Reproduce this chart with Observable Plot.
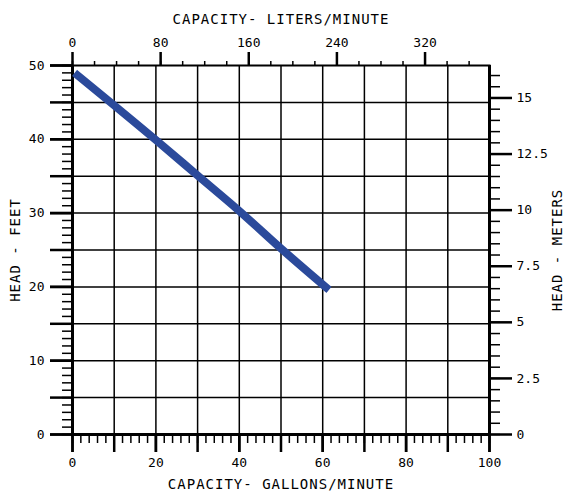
<!DOCTYPE html>
<html>
<head>
<meta charset="utf-8">
<script src="https://cdn.jsdelivr.net/npm/d3@7"></script>
<script src="https://cdn.jsdelivr.net/npm/@observablehq/plot@0.6"></script>
<style>
  html, body { margin: 0; padding: 0; background: #fff; overflow: hidden; }
  #chart { width: 566px; height: 497px; }
</style>
</head>
<body>
<div id="chart"></div>
<script>
// ---- data ----
const capacityGpm = [0.5, 20, 30, 40, 50, 61.5];
const headFeet    = [49, 39.9, 35.1, 30.3, 25.2, 19.6];

// tick values
const gpmMajor   = [0, 10, 20, 30, 40, 50, 60, 70, 80, 90, 100];
const gpmLabels  = [0, 20, 40, 60, 80, 100];
const gpmMinor   = d3.range(0, 100.01, 2);
const feetLabels = [0, 10, 20, 30, 40, 50];
const feetMajor  = [0, 5, 10, 15, 20, 25, 30, 35, 40, 45, 50];
const feetMinor  = d3.range(0, 50.01, 1);
const litersMajor = [0, 80, 160, 240, 320];
const litersMinor = d3.range(0, 370, 20);
const metersMajor = [0, 2.5, 5, 7.5, 10, 12.5, 15];
const metersMinor = d3.range(0, 16.01, 0.5);

const gridGpm  = [10, 20, 30, 40, 50, 60, 70, 80, 90];
const gridFeet = [5, 10, 15, 20, 25, 30, 35, 40, 45];

// unit conversions (as drawn on the reference)
const LITERS_PER_GALLON = 3.785;
const FEET_PER_METER = 3.04;

const titles = {
  top: "CAPACITY- LITERS/MINUTE",
  bottom: "CAPACITY- GALLONS/MINUTE",
  left: "HEAD - FEET",
  right: "HEAD - METERS"
};

const data = capacityGpm.map((g, i) => ({gpm: g, ft: headFeet[i]}));
const toGal = l => l / LITERS_PER_GALLON;
const toFt = m => m * FEET_PER_METER;

const font = "DejaVu Sans Mono";

const chart = Plot.plot({
  width: 566,
  height: 497,
  marginLeft: 72,
  marginRight: 77,
  marginTop: 65,
  marginBottom: 63,
  style: {fontFamily: font, fontSize: "13px", color: "black", background: "white"},
  x: {domain: [0, 100]},
  y: {domain: [0, 50]},
  marks: [
    // grid
    Plot.ruleX(gridGpm, {stroke: "black", strokeWidth: 1.5}),
    Plot.ruleY(gridFeet, {stroke: "black", strokeWidth: 1.5}),
    // bottom axis
    Plot.axisX(gpmMinor, {anchor: "bottom", tickSize: 9, strokeWidth: 1.5, tickFormat: () => "", label: null}),
    Plot.axisX(gpmMajor, {anchor: "bottom", tickSize: 18, strokeWidth: 2.5, tickFormat: () => "", label: null}),
    Plot.axisX(gpmLabels, {anchor: "bottom", tickSize: 18, tickPadding: 5, strokeWidth: 2.5, tickFormat: d => String(d), label: null, fontSize: 13}),
    // left axis
    Plot.axisY(feetMinor, {anchor: "left", tickSize: 10, strokeWidth: 1.5, tickFormat: () => "", label: null}),
    Plot.axisY(feetMajor, {anchor: "left", tickSize: 22, strokeWidth: 2.5, tickFormat: () => "", label: null}),
    Plot.axisY(feetLabels, {anchor: "left", tickSize: 22, tickPadding: 6, strokeWidth: 2.5, tickFormat: d => String(d), label: null, fontSize: 13}),
    // top axis (liters/minute mapped onto the gallons scale)
    Plot.axisX(litersMinor.map(toGal), {anchor: "top", tickSize: 5, strokeWidth: 1.5, tickFormat: () => "", label: null}),
    Plot.axisX(litersMajor.map(toGal), {anchor: "top", tickSize: 14, tickPadding: 5, strokeWidth: 2.5,
      tickFormat: d => String(Math.round(d * LITERS_PER_GALLON)), label: null, fontSize: 13}),
    // right axis (meters mapped onto the feet scale)
    Plot.axisY(metersMinor.map(toFt).filter(v => v <= 50), {anchor: "right", tickSize: 10, strokeWidth: 1.5, tickFormat: () => "", label: null}),
    Plot.axisY(metersMajor.map(toFt), {anchor: "right", tickSize: 22, tickPadding: 5, strokeWidth: 2.5,
      tickFormat: d => String(Math.round(d / FEET_PER_METER * 10) / 10), label: null, fontSize: 13}),
    // frame
    Plot.frame({stroke: "black", strokeWidth: 2}),
    Plot.ruleX([0, 100], {stroke: "black", strokeWidth: 3}),
    Plot.ruleY([0], {stroke: "black", strokeWidth: 3}),
    // curve
    Plot.line(data, {x: "gpm", y: "ft", stroke: "#2b4a9b", strokeWidth: 8, strokeLinecap: "butt", strokeLinejoin: "round", curve: "monotone-x"}),
    // titles
    Plot.text([titles.top], {frameAnchor: "top", dy: -51, fontSize: 14, fill: "black"}),
    Plot.text([titles.bottom], {frameAnchor: "bottom", dy: 54, fontSize: 14, fill: "black"}),
    Plot.text([titles.left], {frameAnchor: "left", textAnchor: "middle", dx: -57, rotate: -90, fontSize: 14, fill: "black"}),
    Plot.text([titles.right], {frameAnchor: "right", textAnchor: "middle", dx: 68, rotate: -90, fontSize: 14, fill: "black"})
  ]
});

d3.select(chart).selectAll("text").each(function() {
  const t = this.textContent;
  if (Object.values(titles).includes(t)) this.setAttribute("letter-spacing", "1");
});

document.getElementById("chart").appendChild(chart);
</script>
</body>
</html>
